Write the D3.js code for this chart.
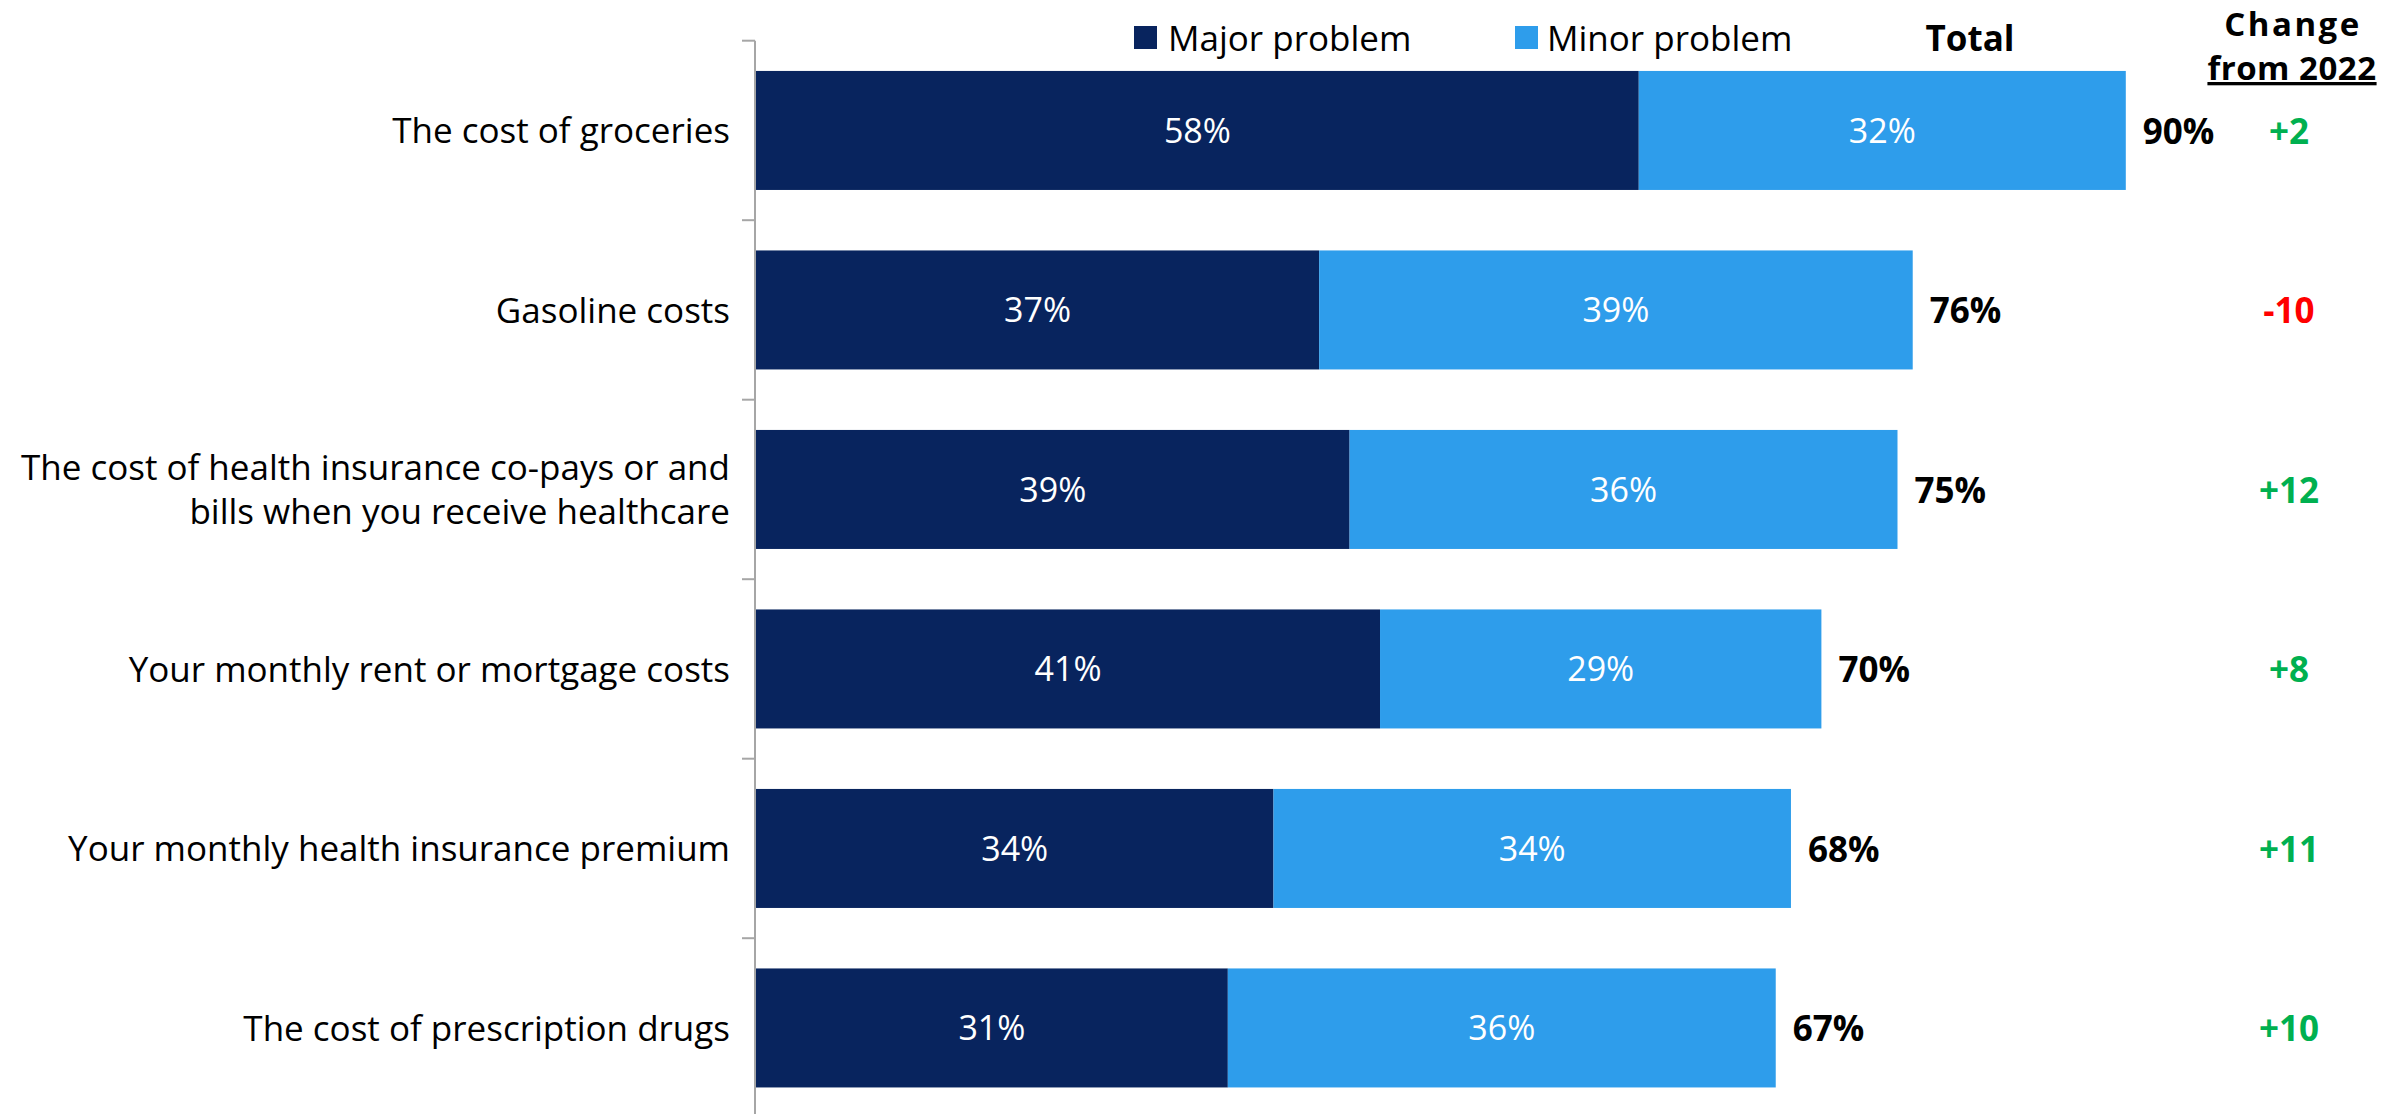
<!DOCTYPE html>
<html>
<head>
<meta charset="utf-8">
<script src="https://cdn.jsdelivr.net/npm/d3@7"></script>
<style>
  html, body { margin: 0; padding: 0; background: #fff; }
  svg { display: block; font-family: "Open Sans", "Noto Sans", sans-serif; }
</style>
</head>
<body>
<svg id="chart" width="2394" height="1114"></svg>
<script>
const categories = [
  "The cost of groceries",
  "Gasoline costs",
  "The cost of health insurance co-pays or and\nbills when you receive healthcare",
  "Your monthly rent or mortgage costs",
  "Your monthly health insurance premium",
  "The cost of prescription drugs"
];
const majorValues = [58, 37, 39, 41, 34, 31];
const minorValues = [32, 39, 36, 29, 34, 36];
const totalValues = [90, 76, 75, 70, 68, 67];
const changeLabels = ["+2", "-10", "+12", "+8", "+11", "+10"];
const seriesNames = ["Major problem", "Minor problem"];
const seriesColors = ["#08245E", "#2E9DEB"];

const svg = d3.select("#chart");
const W = 2394, H = 1114;

const x = d3.scaleLinear().domain([0, 100]).range([756, 2278]);
const y = d3.scaleBand().domain(categories)
  .range([40.7, 40.7 + 6 * 179.5])
  .paddingInner(0.337).paddingOuter(0.337 / 2);

const rows = categories.map((c, i) => ({
  cat: c, major: majorValues[i], minor: minorValues[i],
  total: totalValues[i], change: changeLabels[i]
}));

const stack = d3.stack().keys(["major", "minor"])(rows);

// axis line and ticks
const axisX = 755;
svg.append("line")
  .attr("x1", axisX).attr("x2", axisX)
  .attr("y1", y.range()[0]).attr("y2", H + 10)
  .attr("stroke", "#A6A6A6").attr("stroke-width", 2);
const step = y.step();
const boundaries = categories.map(c => y(c) - step * y.paddingInner() / 2);
svg.selectAll(".tick").data(boundaries).enter().append("line")
  .attr("x1", axisX - 13).attr("x2", axisX)
  .attr("y1", d => d).attr("y2", d => d)
  .attr("stroke", "#A6A6A6").attr("stroke-width", 2);

// bars
stack.forEach((layer, li) => {
  svg.append("g").selectAll("rect").data(layer).enter().append("rect")
    .attr("x", d => x(d[0]))
    .attr("y", d => y(d.data.cat))
    .attr("width", d => x(d[1]) - x(d[0]))
    .attr("height", y.bandwidth())
    .attr("fill", seriesColors[li]);
  svg.append("g").selectAll("text").data(layer).enter().append("text")
    .attr("x", d => (x(d[0]) + x(d[1])) / 2)
    .attr("y", d => y(d.data.cat) + y.bandwidth() / 2)
    .attr("dy", "0.36em")
    .attr("text-anchor", "middle")
    .attr("fill", "#fff")
    .attr("font-size", 34)
    .text(d => (d[1] - d[0]) + "%");
});

// category labels
const catG = svg.append("g");
rows.forEach(r => {
  const lines = r.cat.split("\n");
  const cy = y(r.cat) + y.bandwidth() / 2;
  const lh = 44;
  const t = catG.append("text")
    .attr("text-anchor", "end")
    .attr("font-size", 35)
    .attr("fill", "#000");
  lines.forEach((ln, k) => {
    t.append("tspan")
      .attr("x", 730)
      .attr("y", cy + (k - (lines.length - 1) / 2) * lh)
      .attr("dy", "0.36em")
      .text(ln);
  });
});

// totals
svg.append("g").selectAll("text").data(rows).enter().append("text")
  .attr("x", d => x(d.total) + 17)
  .attr("y", d => y(d.cat) + y.bandwidth() / 2)
  .attr("dy", "0.38em")
  .attr("font-size", 35).attr("font-weight", 700)
  .attr("fill", "#000")
  .text(d => d.total + "%");

// change
const changeX = 2289;
svg.append("g").selectAll("text").data(rows).enter().append("text")
  .attr("x", changeX)
  .attr("y", d => y(d.cat) + y.bandwidth() / 2)
  .attr("dy", "0.38em")
  .attr("text-anchor", "middle")
  .attr("font-size", 35).attr("font-weight", 700)
  .attr("fill", d => d.change.startsWith("-") ? "#FF0000" : "#00B050")
  .text(d => d.change);

// legend
const legendItems = [
  { name: seriesNames[0], color: seriesColors[0], sx: 1134, tx: 1168 },
  { name: seriesNames[1], color: seriesColors[1], sx: 1515, tx: 1547 }
];
legendItems.forEach(li => {
  svg.append("rect").attr("x", li.sx).attr("y", 26).attr("width", 23).attr("height", 23)
    .attr("fill", li.color);
  svg.append("text").attr("x", li.tx).attr("y", 38).attr("dy", "0.36em")
    .attr("font-size", 35).attr("fill", "#000").text(li.name);
});

svg.append("text").attr("x", 1970).attr("y", 38).attr("dy", "0.36em")
  .attr("text-anchor", "middle").attr("font-size", 35).attr("font-weight", 700)
  .text("Total");

svg.append("text").attr("x", 2293).attr("y", 36)
  .attr("text-anchor", "middle").attr("font-size", 33).attr("font-weight", 700)
  .attr("letter-spacing", 2.5)
  .text("Change");
svg.append("text").attr("x", 2292).attr("y", 80)
  .attr("text-anchor", "middle").attr("font-size", 33).attr("font-weight", 700)
  .attr("letter-spacing", 0.5)
  .attr("text-decoration", "underline")
  .text("from 2022");
</script>
</body>
</html>
